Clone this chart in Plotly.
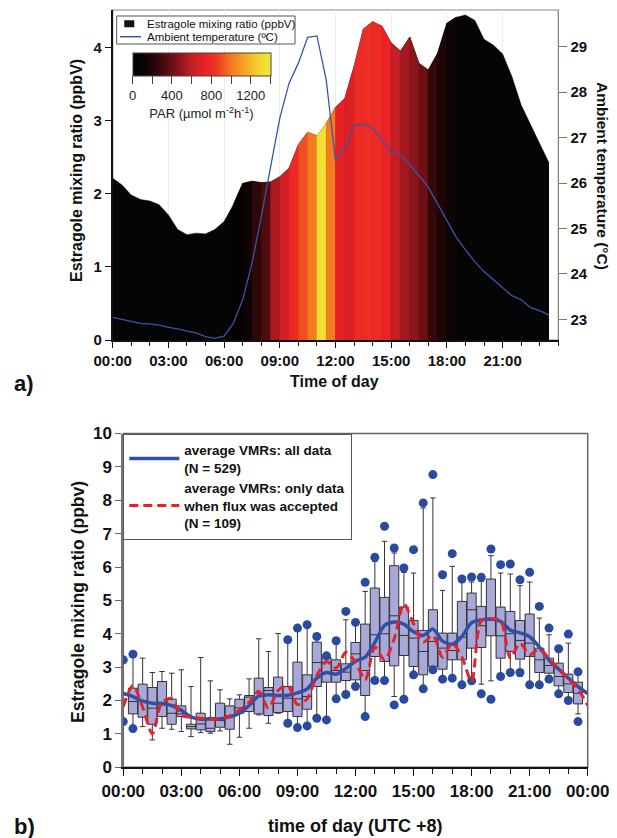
import numpy as np
import plotly.graph_objects as go
from plotly.colors import sample_colorscale

# ---- panel a) : diurnal means, half-hourly ----
half_hours = np.arange(0, 24, 0.5)
estragole = [2.21, 2.12, 1.98, 1.92, 1.90, 1.85, 1.71, 1.51, 1.44, 1.46, 1.45, 1.51,
             1.62, 1.85, 2.14, 2.17, 2.15, 2.16, 2.23, 2.35, 2.67, 2.84, 2.79, 2.96,
             3.18, 3.30, 3.74, 4.25, 4.35, 4.29, 4.06, 3.95, 4.14, 3.78, 3.69, 3.92,
             4.33, 4.41, 4.44, 4.37, 4.11, 4.03, 3.91, 3.60, 3.21, 2.94, 2.67, 2.42]
temperature = [23.04, 23.00, 22.95, 22.91, 22.90, 22.87, 22.82, 22.79, 22.74, 22.70, 22.62, 22.58,
               22.63, 22.91, 23.43, 24.23, 25.26, 26.36, 27.43, 28.20, 28.64, 29.21, 29.24, 28.27,
               26.49, 26.77, 27.27, 27.30, 27.20, 26.95, 26.67, 26.63, 26.40, 26.16, 25.91, 25.55,
               25.19, 24.81, 24.53, 24.27, 24.05, 23.87, 23.70, 23.52, 23.43, 23.26, 23.19, 23.09]
par = [0, 0, 0, 0, 0, 0, 0, 0, 0, 0, 0, 0,
       0, 40, 110, 230, 330, 540, 650, 780, 900, 1000, 1350, 1000,
       720, 680, 790, 800, 790, 740, 600, 530, 470, 400, 260, 180,
       100, 0, 0, 0, 0, 0, 0, 0, 0, 0, 0, 0]

tick_hours = [0, 3, 6, 9, 12, 15, 18, 21, 24]
tick_text = ["00:00", "03:00", "06:00", "09:00", "12:00", "15:00", "18:00", "21:00", "00:00"]

# ---- panel b) : box statistics per half hour ----
box_hours = np.arange(0.5, 24, 0.5)
q1 = [1.60, 1.50, 1.29, 1.52, 1.29, 1.52, 1.15, 1.12, 1.07, 1.20, 1.14, 1.62,
      1.67, 1.60, 1.55, 1.64, 1.67, 1.52, 1.74, 2.42, 2.55, 2.55, 2.60, 2.62,
      2.15, 3.32, 3.17, 3.04, 3.35, 3.02, 2.77, 3.02, 2.94, 3.22, 3.22, 3.57,
      3.59, 3.94, 3.27, 3.47, 3.24, 3.32, 2.84, 2.82, 2.44, 2.24, 1.90]
median = [1.97, 2.00, 1.77, 1.95, 1.62, 1.60, 1.22, 1.30, 1.17, 1.40, 1.55, 1.78,
          2.10, 2.22, 2.30, 1.92, 2.07, 2.05, 2.12, 3.14, 3.14, 2.90, 2.85, 3.40,
          2.90, 3.97, 4.00, 4.54, 3.95, 3.87, 3.47, 3.77, 3.57, 3.50, 3.90, 4.72,
          4.24, 4.40, 3.94, 4.00, 3.80, 3.72, 3.22, 3.05, 2.72, 2.50, 2.22]
q3 = [2.37, 2.49, 2.39, 2.57, 2.04, 1.84, 1.29, 1.62, 1.42, 1.92, 1.84, 2.04,
      2.15, 2.67, 2.39, 2.70, 2.42, 3.15, 2.77, 3.75, 3.30, 3.22, 3.10, 3.74,
      4.29, 5.37, 5.09, 6.04, 4.80, 4.40, 4.10, 4.72, 4.02, 4.02, 4.97, 5.22,
      4.82, 5.64, 4.80, 4.67, 4.40, 4.59, 3.57, 3.27, 3.12, 2.79, 2.55]
whisker_low = [1.22, 1.22, 0.82, 1.17, 1.14, 1.07, 0.92, 1.04, 1.02, 1.09, 0.69, 0.90,
               1.17, 1.57, 1.32, 1.62, 1.35, 1.22, 1.26, 1.50, 1.45, 2.10, 2.22, 2.45,
               1.55, 2.65, 2.65, 2.12, 2.12, 2.80, 2.40, 2.95, 2.62, 2.66, 2.50, 2.60,
               2.49, 2.59, 2.75, 2.87, 2.72, 2.50, 2.50, 2.75, 2.25, 2.02, 1.60]
whisker_high = [3.30, 3.27, 2.84, 2.87, 2.82, 2.92, 2.42, 3.29, 2.59, 2.32, 2.05, 2.17,
                2.65, 3.85, 3.47, 4.01, 3.79, 4.12, 4.22, 3.90, 3.30, 3.75, 4.42, 4.30,
                5.27, 6.17, 6.77, 6.42, 5.84, 5.82, 7.77, 8.07, 5.30, 6.02, 5.55, 5.55,
                5.57, 6.34, 5.82, 5.79, 5.44, 5.55, 4.47, 3.97, 3.59, 3.72, 2.80]

dot_hours = [0, 0, 0.5, 0.5, 8.5, 8.5, 9, 9, 9.5, 9.5, 10, 10, 10.5, 10.5, 11, 11,
             11.5, 11.5, 12, 12, 12.5, 12.5, 13, 13, 13.5, 13.5, 14, 14, 14.5, 14.5,
             15, 15, 15.5, 15.5, 16, 16, 16.5, 16.5, 17, 17, 17.5, 17.5, 18, 18,
             18.5, 18.5, 19, 19, 19.5, 19.5, 20, 20, 20.5, 20.5, 21, 21, 21.5, 21.5,
             22, 22, 22.5, 22.5, 23, 23, 23.5, 23.5]
dot_values = [3.22, 1.37, 3.39, 1.16, 3.82, 1.32, 4.17, 1.19, 4.27, 1.24, 3.92, 1.47,
              3.34, 1.42, 3.79, 2.05, 4.67, 2.18, 4.34, 2.42, 5.54, 1.52, 6.29, 2.60,
              7.22, 2.60, 6.57, 1.87, 5.97, 2.04, 6.52, 2.77, 7.92, 2.35, 8.77, 2.92,
              5.77, 2.64, 6.40, 2.67, 5.64, 2.47, 5.70, 2.59, 5.69, 2.20, 6.54, 2.04,
              6.07, 2.72, 6.09, 2.84, 5.62, 2.84, 5.84, 2.47, 4.82, 2.47, 4.17, 2.64,
              3.55, 2.20, 3.99, 2.00, 2.86, 1.37]

# mean of all data wraps round to 24:00; accepted-flux means
full_hours = np.arange(0, 24.5, 0.5)
mean_all = estragole + [estragole[0]]
mean_accepted = [1.82, 2.45, 1.80, 1.00, 1.95, 2.05, 1.55, 1.50, 1.47, 1.44, 1.45, 1.54,
                 1.72, 1.94, 2.28, 1.77, 2.30, 2.45, 1.88, 2.05, 2.75, 3.17, 2.97, 3.45,
                 3.15, 2.62, 3.60, 3.22, 3.85, 4.90, 4.30, 3.75, 3.95, 3.30, 3.72, 3.30,
                 2.57, 4.40, 4.45, 4.40, 3.27, 3.72, 3.37, 3.55, 3.25, 2.95, 2.65, 2.35, 1.85]

par_scale = [[0.0, '#000000'], [0.1, '#120505'], [0.2, '#3a0a0c'], [0.29, '#6e1014'],
             [0.43, '#c41f26'], [0.53, '#ec2226'], [0.6, '#ee3424'], [0.71, '#f47a20'],
             [0.8, '#f5a024'], [0.9, '#f4cf2c'], [1.0, '#f2ea3a']]
PAR_MAX = 1400

# page body adds an 8px margin, so the figure is sized to fit the window
OFF = 8
W, H = 617 - OFF, 838 - OFF


def px_x(x):
    return (x - OFF) / W


def px_y(y):
    return 1 - (y - OFF) / H


def label(text, x, y, size, angle=0, xanchor='center'):
    return dict(text=text, textangle=angle, x=px_x(x), y=px_y(y), xref='paper', yref='paper',
                xanchor=xanchor, yanchor='middle', showarrow=False, font=dict(size=size))


fig = go.Figure()

# black base area
fig.add_trace(go.Scatter(
    x=half_hours, y=estragole, mode='lines', fill='tozeroy',
    fillcolor='#050505', line=dict(color='#050505', width=0.5),
    showlegend=False, hoverinfo='skip'
))

# PAR-coloured bands between consecutive half hours
band_colors = sample_colorscale(par_scale, [p / PAR_MAX for p in par])
for i in range(len(half_hours) - 1):
    if par[i] <= 0:
        continue
    xs = [half_hours[i], half_hours[i], half_hours[i + 1], half_hours[i + 1]]
    ys = [0, estragole[i], estragole[i + 1], 0]
    fig.add_trace(go.Scatter(
        x=xs, y=ys, mode='lines', fill='toself', fillcolor=band_colors[i],
        line=dict(color=band_colors[i], width=0.6), showlegend=False, hoverinfo='skip'
    ))

# colour bar carrier (invisible markers)
fig.add_trace(go.Scatter(
    x=half_hours, y=estragole, mode='markers', showlegend=False, hoverinfo='skip',
    marker=dict(
        size=4, opacity=0, color=par, colorscale=par_scale, cmin=0, cmax=PAR_MAX, showscale=True,
        colorbar=dict(
            orientation='h', x=px_x(201.5), xanchor='center', y=px_y(53.3), yanchor='top',
            len=137.6, lenmode='pixels', thickness=22.7, xpad=0, ypad=0,
            outlinewidth=1, outlinecolor='#444',
            ticks='outside', ticklen=8, tickcolor='#444',
            tickvals=[0, 200, 400, 600, 800, 1000, 1200, 1400],
            ticktext=['0', ' ', '400', ' ', '800', ' ', '1200', ' '],
            tickfont=dict(size=13, color='#222'),
            title=dict(text='PAR (µmol m<sup>-2</sup>h<sup>-1</sup>)', side='bottom',
                       font=dict(size=13, color='#222'))
        )
    )
))

fig.add_trace(go.Scatter(
    x=half_hours, y=temperature, mode='lines', yaxis='y2',
    line=dict(color='#3a55a8', width=1.3), showlegend=False, hoverinfo='skip'
))

# ---- panel b ----
fig.add_trace(go.Box(
    x=box_hours, q1=q1, median=median, q3=q3,
    lowerfence=whisker_low, upperfence=whisker_high,
    xaxis='x2', yaxis='y3', width=0.47, whiskerwidth=0.6,
    fillcolor='#a9a9d9', line=dict(color='#333333', width=1),
    boxpoints=False, showlegend=False, hoverinfo='skip'
))

fig.add_trace(go.Scatter(
    x=dot_hours, y=dot_values, mode='markers', xaxis='x2', yaxis='y3',
    marker=dict(color='#2a4aa0', size=9), showlegend=False, hoverinfo='skip'
))

fig.add_trace(go.Scatter(
    x=full_hours, y=mean_all, mode='lines', xaxis='x2', yaxis='y3',
    line=dict(color='#3050a8', width=3.5, shape='spline', smoothing=0.8),
    name='average VMRs: all data<br>(N = 529)', legend='legend2'
))

fig.add_trace(go.Scatter(
    x=full_hours, y=mean_accepted, mode='lines', xaxis='x2', yaxis='y3',
    line=dict(color='#e8202a', width=3, dash='9px,5px', shape='spline', smoothing=0.8),
    name='average VMRs: only data<br>when flux was accepted<br>(N = 109)', legend='legend2'
))

bold = 'bold'
top_x = [px_x(112.7), px_x(558.3)]
top_y = [px_y(340), px_y(10)]
bot_x = [px_x(123.3), px_x(587.7)]
bot_y = [px_y(767.3), px_y(433.5)]

# hand-made legend for panel a (two tight rows)
legend_a = [
    dict(type='rect', xref='paper', yref='paper', x0=px_x(116.7), x1=px_x(295),
         y0=px_y(44), y1=px_y(16), line=dict(color='#555', width=1), fillcolor='white',
         layer='above'),
    dict(type='rect', xref='paper', yref='paper', x0=px_x(124.5), x1=px_x(134),
         y0=px_y(27), y1=px_y(20.5), line=dict(color='#111', width=0.5), fillcolor='#111',
         layer='above'),
    dict(type='line', xref='paper', yref='paper', x0=px_x(120), x1=px_x(141),
         y0=px_y(36.7), y1=px_y(36.7), line=dict(color='#3a55a8', width=1.5), layer='above'),
]

fig.update_layout(
    width=W, height=H,
    margin=dict(l=0, r=0, t=0, b=0, autoexpand=False),
    paper_bgcolor='white', plot_bgcolor='white',
    font=dict(family='Arial, Liberation Sans, sans-serif', color='#111'),
    xaxis=dict(
        domain=top_x, anchor='y', range=[0, 24], automargin=False,
        tickvals=tick_hours[:-1], ticktext=tick_text[:-1],
        ticks='outside', ticklen=6, tickwidth=1.2, tickcolor='#111',
        minor=dict(tickvals=list(range(25)), ticks='outside', ticklen=4, tickcolor='#111',
                   showgrid=False),
        showline=True, linecolor='#111', linewidth=1.5,
        showgrid=True, gridcolor='#eeeeee', zeroline=False,
        tickfont=dict(size=15, weight=bold)
    ),
    yaxis=dict(
        domain=top_y, anchor='x', range=[0, 4.51], tickvals=[0, 1, 2, 3, 4], automargin=False,
        ticks='outside', ticklen=6, tickwidth=1.2, tickcolor='#111',
        showline=True, linecolor='#111', linewidth=1.5,
        showgrid=False, zeroline=False, tickfont=dict(size=15, weight=bold)
    ),
    yaxis2=dict(
        overlaying='y', side='right', anchor='x', range=[22.544, 29.81], automargin=False,
        tickvals=[23, 24, 25, 26, 27, 28, 29],
        ticks='outside', ticklen=8, tickwidth=1.2, tickcolor='#777',
        showline=True, linecolor='#888', linewidth=1.2,
        showgrid=False, zeroline=False, tickfont=dict(size=15, weight=bold)
    ),
    xaxis2=dict(
        domain=bot_x, anchor='y3', range=[0, 24], automargin=False,
        tickvals=tick_hours, ticktext=tick_text,
        ticks='outside', ticklen=7, tickwidth=1.2, tickcolor='#111',
        minor=dict(tickvals=list(range(25)), ticks='outside', ticklen=5, tickcolor='#111',
                   showgrid=False),
        showline=True, linecolor='#111', linewidth=2,
        showgrid=False, zeroline=False, tickfont=dict(size=17, weight=bold)
    ),
    yaxis3=dict(
        domain=bot_y, anchor='x2', range=[0, 10], dtick=1, automargin=False,
        ticks='outside', ticklen=6, tickwidth=1.2, tickcolor='#666',
        showline=True, linecolor='#777', linewidth=2,
        showgrid=False, zeroline=False, tickfont=dict(size=17, weight=bold)
    ),
    legend2=dict(
        x=px_x(123.3), y=px_y(433.5), xanchor='left', yanchor='top',
        bgcolor='white', bordercolor='#555', borderwidth=1,
        font=dict(size=13.5, color='#111', weight=bold), tracegroupgap=6, itemwidth=50
    ),
    shapes=[
        dict(type='rect', xref='x domain', yref='y domain', x0=0, x1=1, y0=0, y1=1,
             line=dict(color='#888', width=1.2), layer='below'),
        dict(type='rect', xref='x2 domain', yref='y3 domain', x0=0, x1=1, y0=0, y1=1,
             line=dict(color='#666', width=1.5), layer='below'),
    ] + legend_a,
    annotations=[
        label('Estragole mixing ratio (ppbV)', 145, 24, 11.5, xanchor='left'),
        label('Ambient temperature (ºC)', 145, 37, 11.5, xanchor='left'),
        label('<b>Estragole mixing ratio (ppbV)</b>', 77, 171, 16, angle=-90),
        label('<b>Ambient temperature (°C)</b>', 603, 176, 15.5, angle=90),
        label('<b>Time of day</b>', 334, 381, 16),
        label('<b>a)</b>', 24, 383, 22),
        label('<b>Estragole mixing ratio (ppbv)</b>', 78, 602, 17.5, angle=-90),
        label('<b>time of day (UTC +8)</b>', 355, 826, 18),
        label('<b>b)</b>', 24, 826, 22),
    ]
)

fig.write_html("out.html")
